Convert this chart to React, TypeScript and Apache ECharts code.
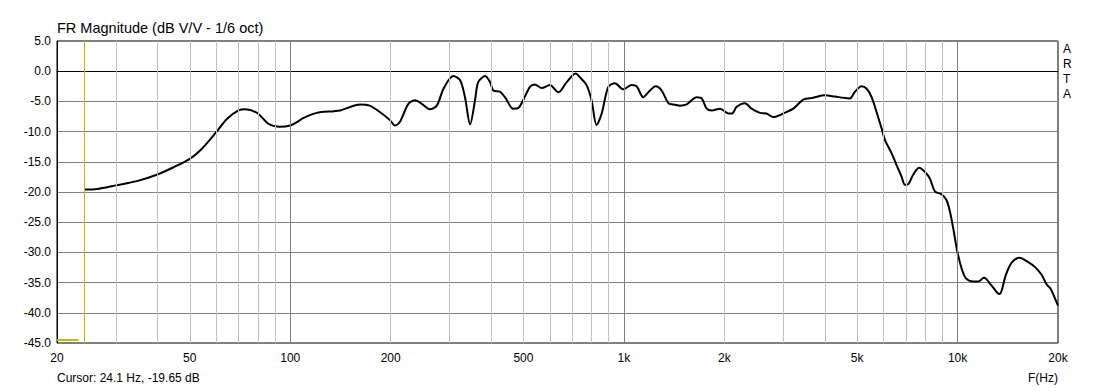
import React, { useEffect, useRef } from "react";
import * as echarts from "echarts";

const freqs = [
  24.1, 26.4, 30, 34.7, 40, 44.7, 50, 53.8, 60, 64.6, 70, 73.3, 80, 86, 93, 100, 105, 109, 120, 141, 162, 173, 186, 199,
  206, 213, 226, 237, 248, 262, 275, 288, 308, 323, 334, 346, 358, 366, 384, 397, 406, 425, 440, 466, 482, 499, 523,
  541, 567, 600, 636, 674, 717, 738, 773, 800, 828, 858, 898, 940, 995, 1055, 1092, 1143, 1197, 1245, 1298, 1359, 1406,
  1472, 1542, 1652, 1711, 1771, 1834, 1942, 2056, 2109, 2178, 2305, 2414, 2557, 2677, 2803, 3003, 3218, 3448, 3694,
  4004, 4291, 4544, 4758, 4925, 5158, 5339, 5527, 5721, 5922, 6061, 6346, 6569, 6800, 6957, 7119, 7369, 7678, 7987,
  8266, 8556, 8963, 9277, 9493, 9712, 9987, 10290, 10600, 11140, 11540, 12000, 12650, 13340, 13560, 13940, 14530,
  15310, 16280, 17050, 17860, 18490, 19010, 19580, 20000,
];
const magnitudeDb = [
  -19.6, -19.5, -18.9, -18.2, -17.1, -15.9, -14.5, -13.1, -10.1, -7.9, -6.5, -6.3, -7.0, -8.7, -9.2, -9.0, -8.4, -7.8,
  -6.9, -6.5, -5.5, -5.7, -6.8, -8.1, -9.0, -8.4, -5.4, -4.8, -5.4, -6.3, -5.7, -2.9, -0.8, -1.5, -4.3, -8.8, -4.8,
  -1.8, -0.8, -1.8, -3.2, -3.4, -4.3, -6.2, -6.1, -4.8, -2.6, -2.2, -2.8, -2.3, -3.5, -1.8, -0.4, -1.0, -2.3, -4.8,
  -8.9, -7.0, -2.6, -2.0, -3.0, -2.3, -2.5, -4.3, -3.2, -2.5, -3.2, -5.3, -5.5, -5.7, -5.5, -4.3, -4.5, -6.2, -6.5,
  -6.2, -7.0, -7.0, -5.9, -5.3, -6.2, -6.9, -7.0, -7.6, -7.0, -6.2, -4.7, -4.4, -4.0, -4.2, -4.4, -4.5, -3.4, -2.5,
  -2.9, -4.3, -6.8, -9.5, -11.4, -13.6, -15.6, -17.5, -18.8, -18.7, -17.1, -16.0, -16.7, -17.8, -19.9, -20.4, -21.4,
  -23.3, -26.1, -29.9, -32.7, -34.3, -34.8, -34.8, -34.2, -35.5, -36.9, -36.3, -33.8, -31.7, -30.9, -31.6, -32.4,
  -33.7, -35.3, -36.0, -37.6, -38.8,
];

const xTickValues = [20, 50, 100, 200, 500, 1000, 2000, 5000, 10000, 20000];
const xTickLabels = ["20", "50", "100", "200", "500", "1k", "2k", "5k", "10k", "20k"];
const minorGridFreqs = [
  30, 40, 50, 60, 70, 80, 90, 200, 300, 400, 500, 600, 700, 800, 900, 2000, 3000, 4000, 5000, 6000, 7000, 8000, 9000,
];
const majorGridFreqs = [100, 1000, 10000];
const cursorFreq = 24.1;
const cursorDb = -19.65;
const markerLine = [
  [20, -44.5],
  [23.2, -44.5],
];

const FONT = "'Liberation Sans', Arial, sans-serif";

export default function App() {
  const ref = useRef<HTMLDivElement>(null);
  useEffect(() => {
    if (!ref.current) return;
    const chart = echarts.init(ref.current, null, { renderer: "svg" });
    const gridLines = [
      ...minorGridFreqs.map((f) => ({ xAxis: f, lineStyle: { color: "#c0c0c0", width: 1, type: "solid" } })),
      ...majorGridFreqs.map((f) => ({ xAxis: f, lineStyle: { color: "#808080", width: 1, type: "solid" } })),
      { xAxis: cursorFreq, lineStyle: { color: "#c8b800", width: 1, type: "solid" } },
    ];
    chart.setOption({
      animation: false,
      backgroundColor: "#ffffff",
      title: {
        text: "FR Magnitude (dB V/V - 1/6 oct)",
        left: 57,
        top: 20,
        padding: 0,
        textStyle: { fontFamily: FONT, fontSize: 14.5, fontWeight: "normal", color: "#000" },
      },
      grid: {
        left: 57,
        right: 56,
        top: 41,
        bottom: 48,
        show: true,
        borderColor: "#000",
        borderWidth: 1,
        backgroundColor: "#ffffff",
      },
      xAxis: {
        type: "log",
        logBase: 10,
        min: 20,
        max: 20000,
        axisLine: { show: true, lineStyle: { color: "#000", width: 1 } },
        axisTick: { show: false },
        splitLine: { show: false },
        minorSplitLine: { show: false },
        axisLabel: {
          show: true,
          customValues: xTickValues,
          margin: 9,
          color: "#000",
          fontFamily: FONT,
          fontSize: 12,
          formatter: (v: number) => {
            const i = xTickValues.findIndex((t) => Math.abs(t - v) / t < 0.01);
            return i >= 0 ? xTickLabels[i] : "";
          },
        },
      },
      yAxis: {
        type: "value",
        min: -45,
        max: 5,
        interval: 5,
        axisLine: { show: true, lineStyle: { color: "#000", width: 1 } },
        axisTick: { show: false },
        splitLine: { show: true, lineStyle: { color: "#808080", width: 1 } },
        axisLabel: {
          color: "#000",
          fontFamily: FONT,
          fontSize: 12,
          margin: 6,
          formatter: (v: number) => v.toFixed(1),
        },
      },
      series: [
        {
          type: "line",
          name: "grid",
          z: 1,
          silent: true,
          symbol: "none",
          data: [[20, -45]],
          lineStyle: { opacity: 0 },
          markLine: {
            silent: true,
            symbol: "none",
            label: { show: false },
            animation: false,
            data: gridLines,
          },
        },
        {
          type: "line",
          name: "marker",
          z: 2,
          silent: true,
          symbol: "none",
          data: markerLine,
          lineStyle: { color: "#c8b800", width: 2 },
        },
        {
          type: "line",
          name: "FR Magnitude",
          z: 3,
          symbol: "none",
          smooth: 0.3,
          data: freqs.map((f, i) => [f, magnitudeDb[i]]),
          lineStyle: { color: "#000", width: 2 },
        },
      ],
      graphic: [
        {
          type: "text",
          left: 57,
          top: 372,
          style: {
            text: `Cursor: ${cursorFreq} Hz, ${cursorDb.toFixed(2)} dB`,
            font: `12px ${FONT}`,
            fill: "#000",
          },
        },
        {
          type: "text",
          right: 56,
          top: 372,
          style: { text: "F(Hz)", font: `12px ${FONT}`, fill: "#000" },
        },
        {
          type: "text",
          left: 1063,
          top: 41,
          style: { text: "A\nR\nT\nA", font: `12px ${FONT}`, fill: "#000", lineHeight: 15 },
        },
      ],
    });
    return () => chart.dispose();
  }, []);
  return <div ref={ref} style={{ position: "fixed", left: 0, top: 0, width: 1114, height: 391 }} />;
}
